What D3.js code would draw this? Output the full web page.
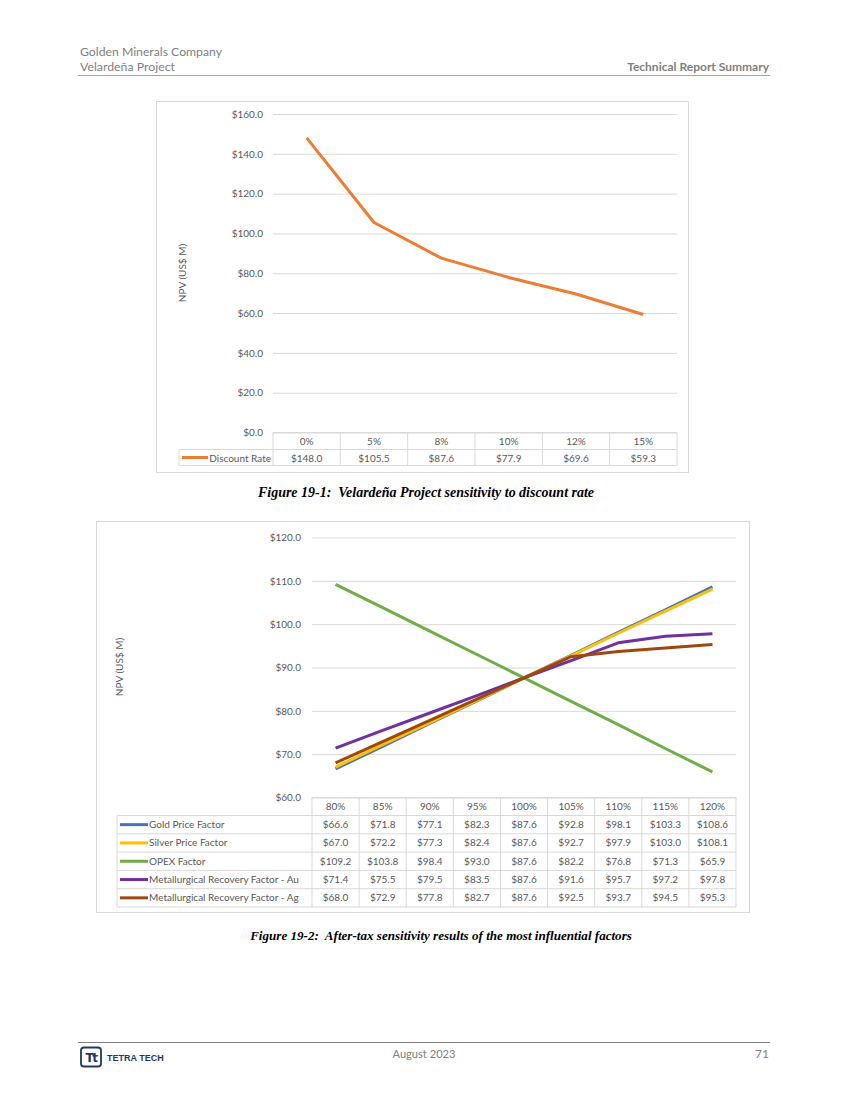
<!DOCTYPE html>
<html>
<head>
<meta charset="utf-8">
<script src="https://cdn.jsdelivr.net/npm/d3@7"></script>
<style>
  html, body { margin: 0; padding: 0; background: #fff; }
  svg { display: block; }
  text { font-family: Lato, "Open Sans", sans-serif; }
</style>
</head>
<body>
<svg id="page" width="849" height="1100"></svg>
<script>
// ---------- DATA ----------
const rateCategories = ["0%", "5%", "8%", "10%", "12%", "15%"];
const discountRateNPV = [148.0, 105.5, 87.6, 77.9, 69.6, 59.3];
const chart1Ticks = [0, 20, 40, 60, 80, 100, 120, 140, 160];

const factorCategories = ["80%", "85%", "90%", "95%", "100%", "105%", "110%", "115%", "120%"];
const goldPrice   = [66.6, 71.8, 77.1, 82.3, 87.6, 92.8, 98.1, 103.3, 108.6];
const silverPrice = [67.0, 72.2, 77.3, 82.4, 87.6, 92.7, 97.9, 103.0, 108.1];
const opexFactor  = [109.2, 103.8, 98.4, 93.0, 87.6, 82.2, 76.8, 71.3, 65.9];
const recoveryAu  = [71.4, 75.5, 79.5, 83.5, 87.6, 91.6, 95.7, 97.2, 97.8];
const recoveryAg  = [68.0, 72.9, 77.8, 82.7, 87.6, 92.5, 93.7, 94.5, 95.3];
const seriesNames = ["Gold Price Factor", "Silver Price Factor", "OPEX Factor",
                     "Metallurgical Recovery Factor - Au", "Metallurgical Recovery Factor - Ag"];
const seriesColors = ["#4472C4", "#FFC000", "#70AD47", "#7030A0", "#9E480E"];
const chart2Ticks = [60, 70, 80, 90, 100, 110, 120];

const fmt = d => "$" + d3.format(".1f")(d);

const svg = d3.select("#page");
const grid = "#d9d9d9";
const txt = "#595959";

// fit a text element to a target width by adjusting font size
function fit(t, base, targetW) {
  const w = t.node().getComputedTextLength();
  t.style("font-size", (base * targetW / w).toFixed(2) + "px");
  return t;
}

// ---------- HEADER ----------
const hdr = svg.append("g").attr("fill", "#808080").style("font-family", "Lato, 'Open Sans', sans-serif").style("font-size", "12px");
fit(hdr.append("text").attr("x", 80).attr("y", 56).text("Golden Minerals Company"), 12, 142);
fit(hdr.append("text").attr("x", 80).attr("y", 71).text("Velardeña Project"), 12, 95);
hdr.append("text").attr("x", 769).attr("y", 71).attr("text-anchor", "end").attr("font-weight", "bold")
  .style("font-size", "12px").text("Technical Report Summary");
svg.append("line").attr("x1", 78).attr("x2", 770).attr("y1", 75.5).attr("y2", 75.5).attr("stroke", "#a6a6a6").attr("stroke-width", 1);

// ---------- CHART 1 ----------
(function () {
  const frame = {x: 156.5, y: 101.5, w: 532, h: 371};
  const L = 273, R = 677, T = 114, B = 432.5;
  const g = svg.append("g");
  g.append("rect").attr("x", frame.x).attr("y", frame.y).attr("width", frame.w).attr("height", frame.h)
    .attr("fill", "#fff").attr("stroke", grid);

  const x = d3.scaleBand().domain(rateCategories).range([L, R]).padding(0);
  const y = d3.scaleLinear().domain([0, 160]).range([B, T]);

  const ax = g.append("g").attr("transform", `translate(${L},0)`)
    .call(d3.axisLeft(y).tickValues(chart1Ticks).tickFormat(fmt).tickSize(-(R - L)).tickPadding(10));
  ax.select(".domain").remove();
  ax.selectAll(".tick line").attr("stroke", grid);
  ax.selectAll(".tick text").attr("fill", txt).style("font-size", "10px").style("font-family", "Lato, sans-serif");

  g.append("text").attr("transform", `translate(186,273) rotate(-90)`)
    .attr("text-anchor", "middle").attr("fill", txt).style("font-size", "10px").text("NPV (US$ M)");

  const line = d3.line().x((d, i) => x(rateCategories[i]) + x.bandwidth() / 2).y(d => y(d));
  g.append("path").datum(discountRateNPV).attr("d", line).attr("fill", "none")
    .attr("stroke", "#ED7D31").attr("stroke-width", 3).attr("stroke-linejoin", "round");

  // data table
  const r0 = B, r1 = 449.5, r2 = 465.5, legL = 179;
  const t = g.append("g").attr("stroke", grid).attr("fill", "none");
  t.append("line").attr("x1", L).attr("x2", R).attr("y1", r0).attr("y2", r0);
  t.append("line").attr("x1", legL).attr("x2", R).attr("y1", r1).attr("y2", r1);
  t.append("line").attr("x1", legL).attr("x2", R).attr("y1", r2).attr("y2", r2);
  t.append("line").attr("x1", legL).attr("x2", legL).attr("y1", r1).attr("y2", r2);
  rateCategories.forEach(c => {
    t.append("line").attr("x1", x(c)).attr("x2", x(c)).attr("y1", r0).attr("y2", r2);
  });
  t.append("line").attr("x1", R).attr("x2", R).attr("y1", r0).attr("y2", r2);

  const tt = g.append("g").attr("fill", txt).style("font-size", "10px").attr("text-anchor", "middle");
  rateCategories.forEach((c, i) => {
    tt.append("text").attr("x", x(c) + x.bandwidth() / 2).attr("y", r0 + 12).text(c);
    tt.append("text").attr("x", x(c) + x.bandwidth() / 2).attr("y", r1 + 12).text(fmt(discountRateNPV[i]));
  });
  g.append("line").attr("x1", 182).attr("x2", 208).attr("y1", (r1 + r2) / 2).attr("y2", (r1 + r2) / 2)
    .attr("stroke", "#ED7D31").attr("stroke-width", 3);
  g.append("text").attr("x", 271).attr("y", r1 + 12).attr("text-anchor", "end").attr("fill", txt)
    .style("font-size", "10px").text("Discount Rate");
})();

// ---------- CAPTIONS ----------
function caption(str, cx, y, targetW) {
  const t = svg.append("text").attr("x", cx).attr("y", y).attr("text-anchor", "middle")
    .style("font-family", "'Liberation Serif', 'DejaVu Serif', serif").style("font-weight", "bold")
    .style("font-style", "italic").style("font-size", "13px").style("white-space", "pre")
    .attr("fill", "#000").text(str);
  fit(t, 13, targetW);
}
caption("Figure 19-1:  Velardeña Project sensitivity to discount rate", 426, 497, 336);
caption("Figure 19-2:  After-tax sensitivity results of the most influential factors", 441, 940, 382);

// ---------- CHART 2 ----------
(function () {
  const frame = {x: 96.5, y: 521.5, w: 653, h: 391};
  const L = 312, R = 736, T = 537.5, B = 797.5;
  const g = svg.append("g");
  g.append("rect").attr("x", frame.x).attr("y", frame.y).attr("width", frame.w).attr("height", frame.h)
    .attr("fill", "#fff").attr("stroke", grid);

  const x = d3.scaleBand().domain(factorCategories).range([L, R]).padding(0);
  const y = d3.scaleLinear().domain([60, 120]).range([B, T]);

  const ax = g.append("g").attr("transform", `translate(${L},0)`)
    .call(d3.axisLeft(y).tickValues(chart2Ticks).tickFormat(fmt).tickSize(-(R - L)).tickPadding(11));
  ax.select(".domain").remove();
  ax.selectAll(".tick line").attr("stroke", grid);
  ax.selectAll(".tick text").attr("fill", txt).style("font-size", "10px").style("font-family", "Lato, sans-serif");

  g.append("text").attr("transform", `translate(123,667) rotate(-90)`)
    .attr("text-anchor", "middle").attr("fill", txt).style("font-size", "10px").text("NPV (US$ M)");

  const allSeries = [goldPrice, silverPrice, opexFactor, recoveryAu, recoveryAg];
  const line = d3.line().x((d, i) => x(factorCategories[i]) + x.bandwidth() / 2).y(d => y(d));
  allSeries.forEach((s, k) => {
    g.append("path").datum(s).attr("d", line).attr("fill", "none")
      .attr("stroke", seriesColors[k]).attr("stroke-width", 3).attr("stroke-linejoin", "round");
  });

  // data table
  const rowH = 18.3, legL = 117;
  const r0 = B, r1 = B + 18;
  const bottom = r1 + 5 * rowH;
  const t = g.append("g").attr("stroke", grid).attr("fill", "none");
  t.append("line").attr("x1", L).attr("x2", R).attr("y1", r0).attr("y2", r0);
  for (let i = 0; i <= 5; i++) {
    const yy = r1 + i * rowH;
    t.append("line").attr("x1", legL).attr("x2", R).attr("y1", yy).attr("y2", yy);
  }
  t.append("line").attr("x1", legL).attr("x2", legL).attr("y1", r1).attr("y2", bottom);
  factorCategories.forEach(c => {
    t.append("line").attr("x1", x(c)).attr("x2", x(c)).attr("y1", r0).attr("y2", bottom);
  });
  t.append("line").attr("x1", R).attr("x2", R).attr("y1", r0).attr("y2", bottom);

  const tt = g.append("g").attr("fill", txt).style("font-size", "10px").attr("text-anchor", "middle");
  factorCategories.forEach((c, i) => {
    tt.append("text").attr("x", x(c) + x.bandwidth() / 2).attr("y", r0 + 12.5).text(c);
    allSeries.forEach((s, k) => {
      tt.append("text").attr("x", x(c) + x.bandwidth() / 2).attr("y", r1 + k * rowH + 12.5).text(fmt(s[i]));
    });
  });
  seriesNames.forEach((n, k) => {
    const cy = r1 + k * rowH + rowH / 2;
    g.append("line").attr("x1", 120).attr("x2", 148).attr("y1", cy).attr("y2", cy)
      .attr("stroke", seriesColors[k]).attr("stroke-width", 3);
    g.append("text").attr("x", 149).attr("y", r1 + k * rowH + 12.5).attr("fill", txt)
      .style("font-size", "10px").text(n);
  });
})();

// ---------- FOOTER ----------
svg.append("line").attr("x1", 78).attr("x2", 770).attr("y1", 1042.5).attr("y2", 1042.5).attr("stroke", "#7f7f7f").attr("stroke-width", 1);
const ft = svg.append("g").attr("fill", "#808080").style("font-family", "Lato, 'Open Sans', sans-serif").style("font-size", "12px");
fit(ft.append("text").attr("x", 424).attr("y", 1058).attr("text-anchor", "middle").text("August 2023"), 12, 63);
ft.append("text").attr("x", 769).attr("y", 1058).attr("text-anchor", "end").style("font-size", "12px").text("71");
const logo = svg.append("g");
logo.append("rect").attr("x", 81).attr("y", 1047.5).attr("width", 20).attr("height", 19).attr("rx", 3)
  .attr("fill", "#fff").attr("stroke", "#1f3864").attr("stroke-width", 1.8);
logo.append("text").attr("x", 91).attr("y", 1062).attr("text-anchor", "middle").attr("fill", "#1f3864")
  .style("font-family", "'DejaVu Sans', sans-serif").style("font-weight", "bold").style("font-size", "12px").style("letter-spacing", "-1.5px").text("Tt");
logo.append("text").attr("x", 107).attr("y", 1061).attr("fill", "#1f3864")
  .style("font-family", "'Liberation Sans', Arial, sans-serif").style("font-weight", "bold").style("font-size", "9px").text("TETRA TECH");
</script>
</body>
</html>
